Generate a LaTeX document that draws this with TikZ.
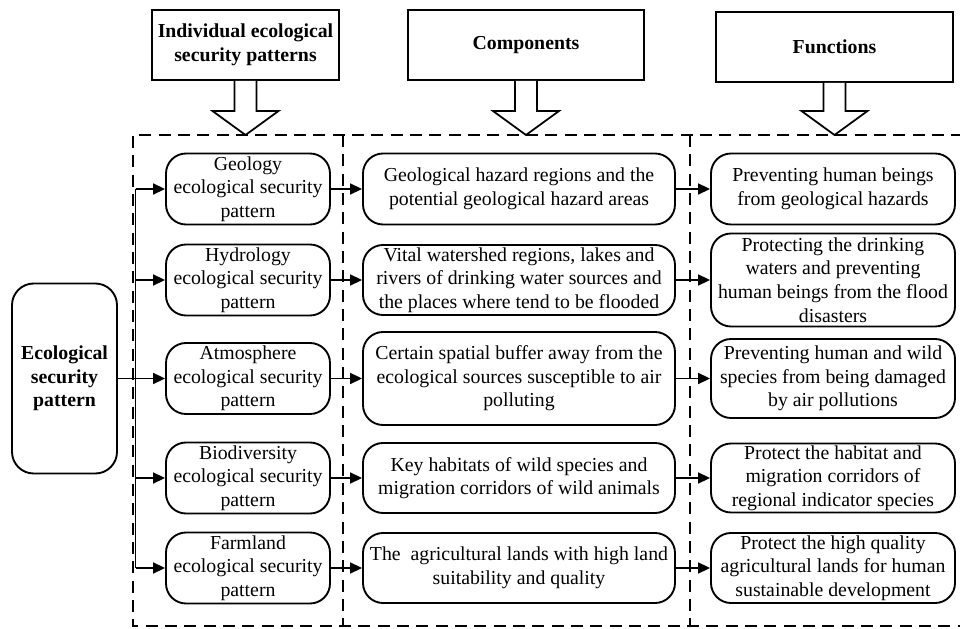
\documentclass[tikz,border=0pt]{standalone}
\usepackage{fontspec}
\setmainfont{Liberation Serif}
\usetikzlibrary{arrows.meta}
\newcommand{\figfont}{\fontsize{16.9}{20.2}\selectfont}
\begin{document}
\begin{tikzpicture}[
    font=\figfont,
    hdrbox/.style={rectangle, draw, line width=1.5pt, minimum height=2.1cm,
                   align=center, inner sep=2pt, font=\figfont\bfseries},
    patbox/.style={rectangle, draw, line width=1.6pt, rounded corners=0.6cm,
                   minimum width=4.92cm, minimum height=2.13cm,
                   align=center, inner sep=1pt},
    compbox/.style={patbox, minimum width=9.36cm, minimum height=2.1cm},
    funcbox/.style={patbox, minimum width=7.32cm, minimum height=2.1cm},
    arr/.style={-{Triangle[length=0.36cm, width=0.33cm]}, line width=1.5pt},
    hollow/.style={draw, line width=1.5pt, fill=white},
    frame/.style={line width=1.9pt, dash pattern=on 0.36cm off 0.22cm},
  ]
  \useasboundingbox (0,0) rectangle (28.8,18.84);

  % Header boxes
  \node[hdrbox, minimum width=5.61cm] (hind)  at (7.365, 17.49) {Individual ecological\\security patterns};
  \node[hdrbox, minimum width=7.08cm] (hcomp) at (15.78, 17.49) {Components};
  \node[hdrbox, minimum width=7.11cm] (hfunc) at (25.035, 17.43) {Functions};

  % Dashed frame and dividers
  \coordinate (ftop)   at (0, 14.79);
  \coordinate (fbot)   at (0, 0.06);
  \coordinate (shaftY) at (0, 15.51);
  \draw[frame] (28.9, 14.79) -- (3.99, 14.79) -- (3.99, 0.06) -- (28.9, 0.06);
  \draw[frame] (10.29, 14.79) -- (10.29, 0.06);
  \draw[frame] (20.7, 14.79) -- (20.7, 0.06);

  % Hollow arrows below the headers
  \foreach \h in {hind, hcomp, hfunc}
    \draw[hollow] ([xshift=-0.33cm]\h.south) -- ([xshift=-0.33cm]\h.south |- shaftY)
      -- ([xshift=-0.99cm]\h.south |- shaftY) -- (\h.south |- ftop)
      -- ([xshift=0.99cm]\h.south |- shaftY) -- ([xshift=0.33cm]\h.south |- shaftY)
      -- ([xshift=0.33cm]\h.south);

  % Root node
  \node[patbox, rounded corners=0.65cm, minimum width=3.15cm, minimum height=5.7cm,
        font=\figfont\bfseries] (eco) at (1.935, 7.485) {Ecological\\security\\pattern};

  % Individual patterns
  \node[patbox] (geo)  at (7.44, 13.17) {Geology\\ecological security\\pattern};
  \node[patbox] (hyd)  at (7.44, 10.44) {Hydrology\\ecological security\\pattern};
  \node[patbox] (atm)  at (7.44, 7.485) {Atmosphere\\ecological security\\pattern};
  \node[patbox] (bio)  at (7.44, 4.5)   {Biodiversity\\ecological security\\pattern};
  \node[patbox] (farm) at (7.44, 1.8)   {Farmland\\ecological security\\pattern};

  % Components
  \node[compbox, minimum height=2.13cm] (geo-c) at (15.57, 13.17)
    {Geological hazard regions and the\\potential geological hazard areas};
  \node[compbox] (hyd-c) at (15.57, 10.44)
    {Vital watershed regions, lakes and\\rivers of drinking water sources and\\the places where tend to be flooded};
  \node[compbox, minimum height=2.79cm] (atm-c) at (15.57, 7.485)
    {Certain spatial buffer away from the\\ecological sources susceptible to air\\polluting};
  \node[compbox] (bio-c) at (15.57, 4.5)
    {Key habitats of wild species and\\migration corridors of wild animals};
  \node[compbox] (farm-c) at (15.57, 1.8)
    {The~ agricultural lands with high land\\suitability and quality};

  % Functions
  \node[funcbox, minimum height=2.13cm] (geo-f) at (24.99, 13.17)
    {Preventing human beings\\from geological hazards};
  \node[funcbox, minimum height=2.79cm] (hyd-f) at (24.99, 10.44)
    {Protecting the drinking\\waters and preventing\\human beings from the flood\\disasters};
  \node[funcbox, minimum height=2.37cm] (atm-f) at (24.99, 7.485)
    {Preventing human and wild\\species from being damaged\\by air pollutions};
  \node[funcbox, minimum height=2.07cm] (bio-f) at (24.99, 4.5)
    {Protect the habitat and\\migration corridors of\\regional indicator species};
  \node[funcbox] (farm-f) at (24.99, 1.8)
    {Protect the high quality\\agricultural lands for human\\sustainable development};

  % Trunk and branches
  \coordinate (trunk) at (4.065, 0);
  \draw[line width=1.5pt] (eco.east) -- (eco.east -| trunk);
  \draw[line width=1.5pt] (geo -| trunk) -- (farm -| trunk);
  \foreach \r in {geo, hyd, atm, bio, farm} {
    \draw[arr] (\r -| trunk) -- (\r.west);
    \draw[arr] (\r.east) -- (\r-c.west);
    \draw[arr] (\r-c.east) -- (\r-f.west);
  }

\end{tikzpicture}
\end{document}
